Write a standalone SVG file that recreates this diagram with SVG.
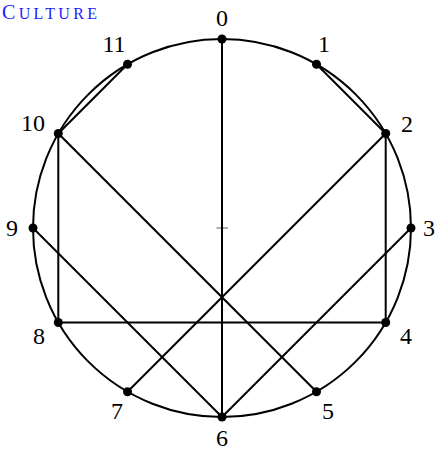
<svg xmlns="http://www.w3.org/2000/svg" width="439" height="453" viewBox="0 0 439 453">
<style>
.ln{stroke:#000;stroke-width:2;fill:none;stroke-linecap:round}
.dot{fill:#000}
.lb{font-family:"Liberation Serif","DejaVu Serif",serif;font-size:24px;fill:#000;text-anchor:middle}
.title{font-family:"Liberation Serif","DejaVu Serif",serif;fill:#1a1aff;font-size:16px}
</style>
<rect width="439" height="453" fill="#fff"/>
<text class="title" x="2" y="19" textLength="95" lengthAdjust="spacing"><tspan font-size="20">C</tspan><tspan font-size="16">ULTURE</tspan></text>
<g id="circle"><circle cx="222" cy="228" r="189" class="ln"/></g>
<g id="center"><line x1="216.5" y1="228" x2="228" y2="228" stroke="#777" stroke-width="1.2"/><line x1="222" y1="222" x2="222" y2="234" stroke="#777" stroke-width="1.2"/></g>
<g id="connectors">
<line class="ln" x1="222" y1="39" x2="222" y2="417"/>
<line class="ln" x1="316.5" y1="64.3" x2="385.7" y2="133.5"/>
<line class="ln" x1="127.5" y1="64.3" x2="58.3" y2="133.5"/>
<line class="ln" x1="58.3" y1="133.5" x2="58.3" y2="322.5"/>
<line class="ln" x1="385.7" y1="133.5" x2="385.7" y2="322.5"/>
<line class="ln" x1="58.3" y1="322.5" x2="385.7" y2="322.5"/>
<line class="ln" x1="58.3" y1="133.5" x2="316.5" y2="391.7"/>
<line class="ln" x1="33" y1="228" x2="222" y2="417"/>
<line class="ln" x1="385.7" y1="133.5" x2="127.5" y2="391.7"/>
<line class="ln" x1="411" y1="228" x2="222" y2="417"/>
</g>
<g id="n0"><circle class="dot" cx="222" cy="39" r="4.5"/><text class="lb" x="222" y="26">0</text></g>
<g id="n1"><circle class="dot" cx="316.5" cy="64.3" r="4.5"/><text class="lb" x="324" y="52">1</text></g>
<g id="n2"><circle class="dot" cx="385.7" cy="133.5" r="4.5"/><text class="lb" x="407" y="132">2</text></g>
<g id="n3"><circle class="dot" cx="411" cy="228" r="4.5"/><text class="lb" x="429" y="236">3</text></g>
<g id="n4"><circle class="dot" cx="385.7" cy="322.5" r="4.5"/><text class="lb" x="406" y="344">4</text></g>
<g id="n5"><circle class="dot" cx="316.5" cy="391.7" r="4.5"/><text class="lb" x="328" y="419">5</text></g>
<g id="n6"><circle class="dot" cx="222" cy="417" r="4.5"/><text class="lb" x="222" y="446">6</text></g>
<g id="n7"><circle class="dot" cx="127.5" cy="391.7" r="4.5"/><text class="lb" x="117" y="419">7</text></g>
<g id="n8"><circle class="dot" cx="58.3" cy="322.5" r="4.5"/><text class="lb" x="39" y="344">8</text></g>
<g id="n9"><circle class="dot" cx="33" cy="228" r="4.5"/><text class="lb" x="12" y="236">9</text></g>
<g id="n10"><circle class="dot" cx="58.3" cy="133.5" r="4.5"/><text class="lb" x="33" y="131">10</text></g>
<g id="n11"><circle class="dot" cx="127.5" cy="64.3" r="4.5"/><text class="lb" x="114" y="52">11</text></g>
</svg>
